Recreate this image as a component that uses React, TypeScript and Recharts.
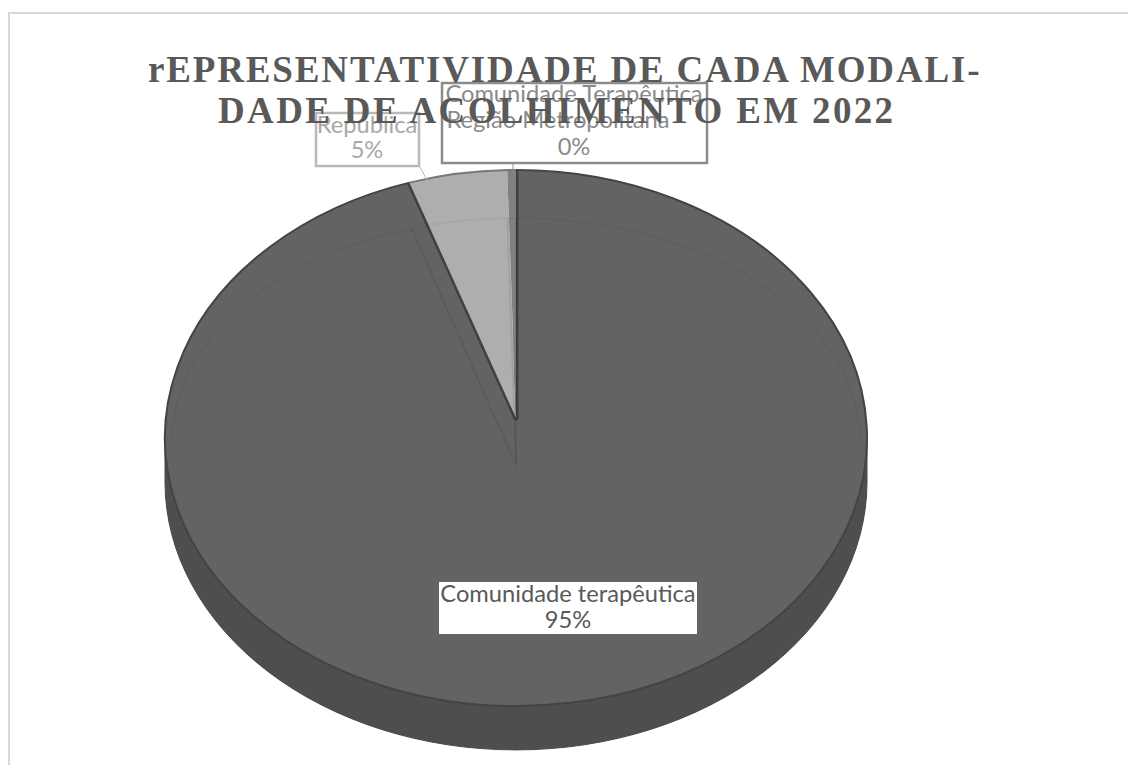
import React from 'react';
import { PieChart, Pie } from 'recharts';

const categories = ['Comunidade terapêutica', 'República', 'Comunidade Terapêutica Região Metropolitana'];
const shares = [95.09, 4.51, 0.4];
const sliceColors = ['#636363', '#aeaeae', '#808080'];
const titleLines = ['rEPRESENTATIVIDADE DE CADA MODALI-', 'DADE DE ACOLHIMENTO EM 2022'];

const data = categories.map((name, i) => ({ name, value: shares[i], fill: sliceColors[i] }));

const CX = 516;
const CY = 438;
const RX = 351;
const RY_RATIO = 268 / 351;
const DEPTH = 44;
const APEX_SHIFT = -20;

const pt = (cx: number, cy: number, rx: number, ry: number, deg: number) => {
  const a = (deg * Math.PI) / 180;
  return [cx + rx * Math.cos(a), cy - ry * Math.sin(a)];
};

// flattened slice: recharts gives the angles, we squash them into the ellipse
const FaceSlice = (props: any) => {
  const { cx, cy, outerRadius, startAngle, endAngle, fill, index } = props;
  const ry = outerRadius * RY_RATIO;
  const apexY = cy + APEX_SHIFT;
  const [sx, sy] = pt(cx, cy, outerRadius, ry, startAngle);
  const [ex, ey] = pt(cx, cy, outerRadius, ry, endAngle);
  const large = Math.abs(startAngle - endAngle) > 180 ? 1 : 0;
  const arc = `M${sx},${sy} A${outerRadius},${ry} 0 ${large} 1 ${ex},${ey}`;
  return (
    <g>
      <path d={`M${cx},${apexY} L${sx},${sy} A${outerRadius},${ry} 0 ${large} 1 ${ex},${ey} Z`} fill={fill} />
      <path d={arc} fill="none" stroke={index === 0 ? '#444444' : '#777777'} strokeWidth={2} />
      {index === 0 && (
        <path d={`M${sx},${sy} L${cx},${apexY} L${ex},${ey}`} fill="none" stroke="#404040" strokeWidth={5} strokeLinejoin="round" />
      )}
    </g>
  );
};

// rim below the face, only where the slice crosses the front half
const SideSlice = (props: any) => {
  const { cx, cy, outerRadius, startAngle, endAngle } = props;
  const from = Math.min(startAngle, 0);
  const to = Math.max(endAngle, -180);
  if (from <= to) return null;
  const ry = outerRadius * RY_RATIO;
  const [sx, sy] = pt(cx, cy, outerRadius, ry, from);
  const [ex, ey] = pt(cx, cy, outerRadius, ry, to);
  const d = `M${sx},${sy} A${outerRadius},${ry} 0 0 1 ${ex},${ey} L${ex},${ey + DEPTH} A${outerRadius},${ry} 0 0 0 ${sx},${sy + DEPTH} Z`;
  return <path d={d} fill="#4e4e4e" stroke="#474747" strokeWidth={1} />;
};

// faint bevel seen through the top of the face
const BevelSlice = (props: any) => {
  const { cx, startAngle, endAngle, index } = props;
  const rx = 344;
  const ry = 222;
  const cy = 440;
  const apexY = 465;
  const [sx, sy] = pt(cx, cy, rx, ry, startAngle);
  const [ex, ey] = pt(cx, cy, rx, ry, endAngle);
  const radial = `M${sx},${sy} L${cx},${apexY} L${ex},${ey}`;
  let arcs = `M${sx},${sy} A${rx},${ry} 0 0 1 ${ex},${ey}`;
  if (index === 0) {
    const [rightX, rightY] = pt(cx, cy, rx, ry, 0);
    const [leftX, leftY] = pt(cx, cy, rx, ry, 180);
    arcs = `M${sx},${sy} A${rx},${ry} 0 0 1 ${rightX},${rightY} M${leftX},${leftY} A${rx},${ry} 0 0 1 ${ex},${ey}`;
  }
  return <path d={`${arcs} ${radial}`} fill="none" stroke="rgba(0,0,0,0.035)" strokeWidth={2} />;
};

const labelFont = 'Lato, "Open Sans", sans-serif';

const labelBoxes = [
  { x: 439, y: 582, w: 258, h: 52, border: 'none', color: '#595959', lines: [{ x: 568, y: 602 }, { x: 568, y: 628 }] },
  { x: 316, y: 113, w: 103, h: 53, border: '#b9b9b9', color: '#a8a8a8', lines: [{ x: 367, y: 133 }, { x: 367, y: 158 }] },
  { x: 442, y: 83, w: 265, h: 80, border: '#8c8c8c', color: '#8a8a8a', lines: [{ x: 574, y: 102 }, { x: 558, y: 128 }, { x: 574, y: 155 }] },
];
const leaderLines = [null, [420, 167, 428, 182], [513, 163, 513, 172]];
const splitNames = [['Comunidade terapêutica'], ['República'], ['Comunidade Terapêutica', 'Região Metropolitana']];

const renderLabel = (props: any) => {
  const { index, percent } = props;
  const box = labelBoxes[index];
  const rows = [...splitNames[index], `${Math.round(percent * 100)}%`];
  const leader = leaderLines[index];
  return (
    <g key={index}>
      {leader && <line x1={leader[0]} y1={leader[1]} x2={leader[2]} y2={leader[3]} stroke={box.border} strokeWidth={1} />}
      <rect x={box.x} y={box.y} width={box.w} height={box.h} fill="#ffffff" stroke={box.border} strokeWidth={box.border === 'none' ? 0 : 2.5} />
      {rows.map((row, i) => (
        <text key={row} x={box.lines[i].x} y={box.lines[i].y} textAnchor="middle" fontFamily={labelFont} fontSize={23.7} fill={box.color}>
          {row}
        </text>
      ))}
    </g>
  );
};

const App = () => (
  <div style={{ position: 'absolute', left: 0, top: 0, width: 1128, height: 765, background: '#fff', overflow: 'hidden' }}>
    <div style={{ position: 'absolute', left: 8, top: 12, right: 0, height: 2, background: '#d9d9d9' }} />
    <div style={{ position: 'absolute', left: 8, top: 12, bottom: 0, width: 2, background: '#d9d9d9' }} />
    <div style={{ position: 'absolute', left: 0, top: 0 }}>
      <PieChart width={1128} height={765} margin={{ top: 0, right: 0, bottom: 0, left: 0 }}>
        <Pie data={data} dataKey="value" nameKey="name" cx={CX} cy={CY} outerRadius={RX} startAngle={90} endAngle={-270} isAnimationActive={false} shape={SideSlice} inactiveShape={SideSlice} stroke="none" />
        <Pie data={data} dataKey="value" nameKey="name" cx={CX} cy={CY} outerRadius={RX} startAngle={90} endAngle={-270} isAnimationActive={false} shape={FaceSlice} inactiveShape={FaceSlice} stroke="none" />
        <Pie data={data} dataKey="value" nameKey="name" cx={CX} cy={CY} outerRadius={RX} startAngle={90} endAngle={-270} isAnimationActive={false} shape={BevelSlice} inactiveShape={BevelSlice} label={renderLabel} labelLine={false} />
      </PieChart>
    </div>
    {titleLines.map((line, i) => (
      <div
        key={line}
        style={{
          position: 'absolute',
          left: i === 0 ? 148 : 218,
          top: 49 + i * 41,
          fontFamily: '"Liberation Serif", serif',
          fontWeight: 700,
          fontSize: 37,
          lineHeight: '41px',
          letterSpacing: i === 0 ? 1.85 : 2.35,
          color: '#595959',
          whiteSpace: 'nowrap',
        }}
      >
        {line}
      </div>
    ))}
  </div>
);

export default App;
